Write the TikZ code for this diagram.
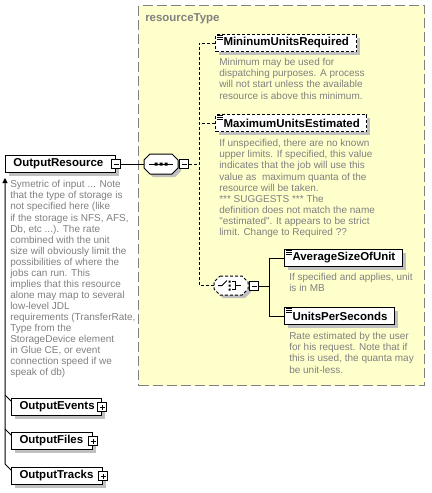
\documentclass[tikz,border=0pt]{standalone}
\usepackage{fontspec}
\newfontfamily\ui{Liberation Sans}
\usetikzlibrary{shadows,arrows.meta,calc}
\definecolor{ctfill}{HTML}{FFFFCC}
\definecolor{ctline}{HTML}{808080}
\definecolor{shgray}{HTML}{C0C0C0}
\definecolor{dsc}{HTML}{808080}
\newcommand\myelemfont{\ui\bfseries\fontsize{8.6}{10}\selectfont}
\newcommand\mydescfont{\ui\fontsize{7.5}{8.3}\selectfont}
% octagon outline relative to the current origin: half width 17, half height #1
\newcommand\myoctpath[1]{(-11,-#1) -- (11,-#1) -- (17,-#1+6) -- (17,#1-6) -- (11,#1) -- (-11,#1) -- (-17,#1-6) -- (-17,-#1+6) -- cycle}
\begin{document}
\begin{tikzpicture}[x=0.75pt,y=-0.75pt,
  shad/.style={drop shadow={shadow xshift=2.25pt,shadow yshift=-2.25pt,fill=shgray,opacity=1}},
  elem/.style 2 args={draw, line width=0.75pt, fill=white, shad, anchor=north west,
    inner xsep=6pt, inner ysep=0pt, minimum width=#1, minimum height=12.75pt,
    text width=#2, align=left, font=\myelemfont},
  opt/.style={dash pattern=on 2.25pt off 1.5pt},
  ico/.style={path picture={\draw[solid,line width=0.6pt]
    ([xshift=1.2pt,yshift=-0.9pt]path picture bounding box.north west) -- ++(4.5pt,0pt)
    ([xshift=1.2pt,yshift=-2.4pt]path picture bounding box.north west) -- ++(4.5pt,0pt)
    ([xshift=1.2pt,yshift=-3.9pt]path picture bounding box.north west) -- ++(4.5pt,0pt);}},
  btn/.style={draw, line width=0.75pt, fill=white, rectangle, minimum size=6.75pt, inner sep=0pt,
    path picture={\draw[solid,line width=0.75pt]
      ([xshift=1.5pt]path picture bounding box.west) -- ([xshift=-1.5pt]path picture bounding box.east);}},
  pbtn/.style={draw, line width=0.75pt, fill=white, rectangle, minimum size=6.75pt, inner sep=0pt,
    path picture={\draw[solid,line width=0.75pt]
      ([xshift=1.5pt]path picture bounding box.west) -- ([xshift=-1.5pt]path picture bounding box.east)
      ([yshift=-1.5pt]path picture bounding box.north) -- ([yshift=1.5pt]path picture bounding box.south);}},
  desc/.style={anchor=north west, inner sep=0pt, align=left, font=\mydescfont, text=dsc},
  conn/.style={line width=0.75pt},
  dconn/.style={line width=0.75pt, dash pattern=on 2.25pt off 1.5pt},
  grp/.style={rectangle, minimum width=25.5pt, minimum height=#1, inner sep=0pt}
]
\useasboundingbox (0,0) rectangle (432,493);
% container
\node[draw=ctline, fill=ctfill, line width=0.75pt, dash pattern=on 7.5pt off 3pt, anchor=north west,
  minimum width=214.5pt, minimum height=285pt, inner sep=0pt] (ct) at (138,5) {};
\node[anchor=west, inner sep=0pt, font=\myelemfont, text=dsc] (ctlabel) at (145,19) {resourceType};
% OutputResource
\node[elem={82.5pt}{70.5pt}] (or) at (5,155) {\mbox{OutputResource}};
\node[btn] (orb) at (or.east) {};
\node[desc] (dor) at (10,180.3) {Symetric of input ... Note\\that the type of storage is\\not specified here (like\\if the storage is NFS, AFS,\\Db, etc ...). The rate\\combined with the unit\\size will obviously limit the\\possibilities of where the\\jobs can run. This\\implies that this resource\\alone may map to several\\low-level JDL\\requirements (TransferRate,\\Type from the\\StorageDevice element\\in Glue CE, or event\\connection speed if we\\speak of db)};
% sequence
\node[grp=15pt] (seq) at (161,164) {};
\begin{scope}[shift={(seq.center)}]
  \fill[shgray] [shift={(3,3)}] \myoctpath{10};
  \draw[line width=0.75pt, fill=white] \myoctpath{10};
  \draw[line width=0.75pt] (-12,0) -- (12,0);
  \fill (-6.5,-1.5) rectangle (-3.5,1.5) (-1.5,-1.5) rectangle (1.5,1.5) (3.5,-1.5) rectangle (6.5,1.5);
\end{scope}
\node[btn] (seqb) at (184,164) {};
% children of sequence
\node[elem={105.75pt}{93.75pt}, opt, ico] (min) at (215,34) {\mbox{MininumUnitsRequired}};
\node[desc] (dmin) at (219,58.3) {Minimum may be used for\\dispatching purposes. A process\\will not start unless the available\\resource is above this minimum.};
\node[elem={113.25pt}{101.25pt}, opt, ico] (max) at (215,114) {\mbox{MaximumUnitsEstimated}};
\node[desc] (dmax) at (219,139.3) {If unspecified, there are no known\\upper limits. If specified, this value\\indicates that the job will use this\\value as~ maximum quanta of the\\resource will be taken.\\*** SUGGESTS *** The\\definition does not match the name\\"estimated". It appears to be strict\\limit. Change to Required ??};
% choice
\node[grp=14.25pt] (ch) at (231,285.5) {};
\begin{scope}[shift={(ch.center)}]
  \fill[shgray] [shift={(3,3)}] \myoctpath{9.5};
  \draw[line width=0.75pt, fill=white, dash pattern=on 2.25pt off 1.5pt] \myoctpath{9.5};
  \draw[line width=0.75pt] (-13,0) -- (-9,0) -- (-4,-5);
  \fill (-2.5,-5) rectangle (-0.5,-3) (-2.5,-1) rectangle (-0.5,1) (-2.5,3) rectangle (-0.5,5);
  \draw[line width=0.75pt] (1,-4) -- (4,-4) -- (4,4) -- (1,4) (4,0) -- (10,0);
\end{scope}
\node[btn] (chb) at (254,286) {};
\node[elem={88.5pt}{76.5pt}, ico] (avg) at (284,249) {\mbox{AverageSizeOfUnit}};
\node[desc] (davg) at (289,273.3) {If specified and applies, unit\\is in MB};
\node[elem={82.5pt}{70.5pt}, ico] (ups) at (284,307) {\mbox{UnitsPerSeconds}};
\node[desc] (dups) at (289,332.3) {Rate estimated by the user\\for his request. Note that if\\this is used, the quanta may\\be unit-less.};
% siblings
\node[elem={67.5pt}{55.5pt}] (ev) at (11,398) {\mbox{OutputEvents}};
\node[pbtn] (evb) at (ev.east) {};
\node[elem={60.75pt}{48.75pt}] (fi) at (11,432) {\mbox{OutputFiles}};
\node[pbtn] (fib) at (fi.east) {};
\node[elem={68.25pt}{56.25pt}] (tr) at (11,467) {\mbox{OutputTracks}};
\node[pbtn] (trb) at (tr.east) {};
% connectors
\draw[conn] (orb.east) -- (seq.west);
\coordinate (sp) at (199,0);
\draw[dconn] (seqb.east) -- (seqb.east -| sp);
\draw[dconn] (min.west) -- (min.west -| sp) -- (ch.west -| sp) -- (ch.west);
\draw[dconn] (max.west) -- (max.west -| sp);
\coordinate (cs) at (269,0);
\draw[conn] (chb.east) -- (chb.east -| cs);
\draw[conn] (avg.west) -- (avg.west -| cs) -- (ups.west -| cs) -- (ups.west);
\draw[conn] ($(ev.north west)+(-6,-3)$) -- ($(ev.north west)+(0,3)$);
\draw[conn] ($(fi.north west)+(-6,-3)$) -- ($(fi.north west)+(0,3)$);
\draw[conn,-{Triangle[length=3.75pt,width=3.75pt]}] ($(tr.north west)+(0,3)$) -- ($(tr.north west)+(-6,-3)$) -- ([yshift=-3.75pt]or.south west);
\end{tikzpicture}
\end{document}
